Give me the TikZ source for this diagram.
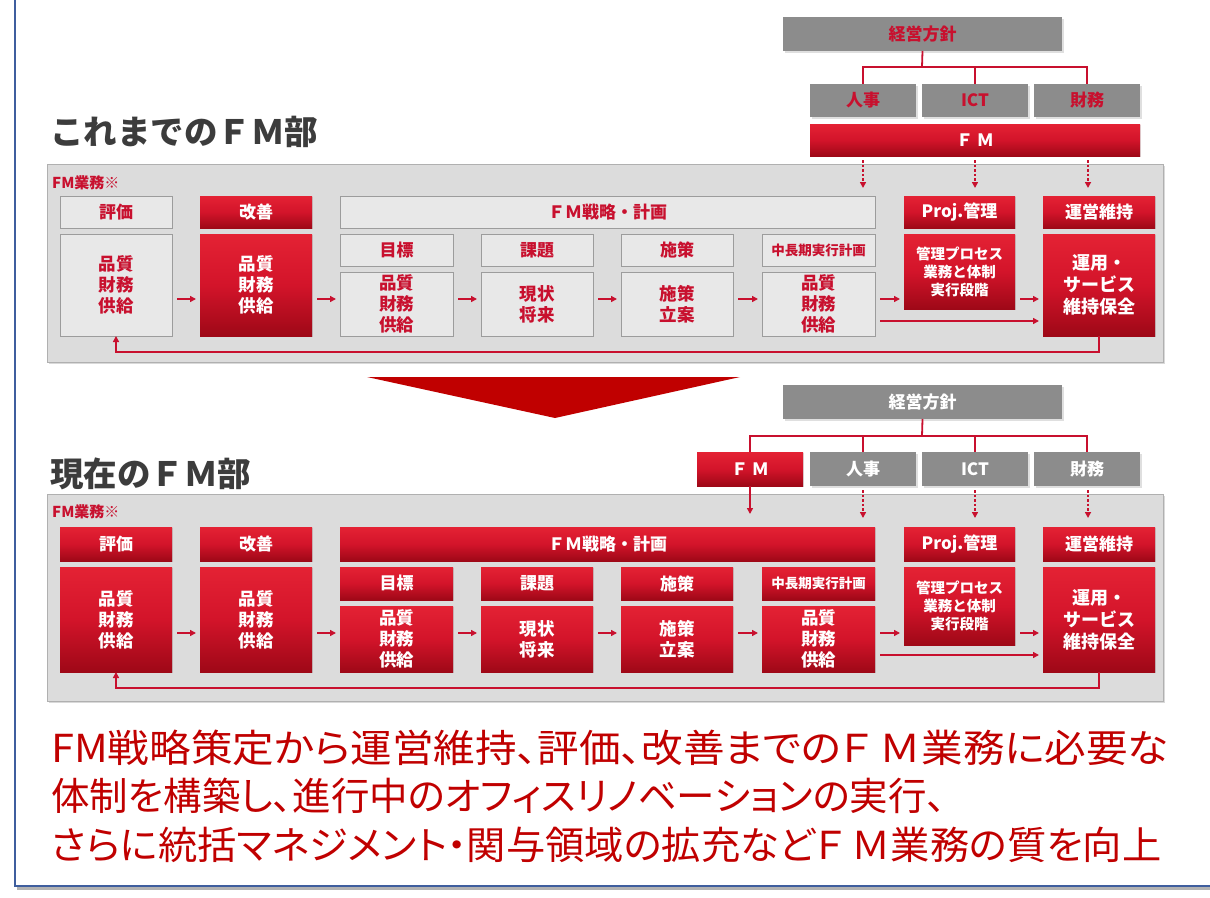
\documentclass[tikz,border=0pt]{standalone}
\usepackage{fontspec}
\usepackage{graphicx}
\setmainfont{Noto Sans CJK JP}
\newfontfamily\jpp{Noto Sans CJK JP}[RawFeature=+palt]
\usetikzlibrary{arrows.meta,shadows,calc}
\definecolor{fmred}{HTML}{C8102E}
\definecolor{txtred}{HTML}{C00000}
\definecolor{rtop}{HTML}{E42234}
\definecolor{rmid}{HTML}{D3142A}
\definecolor{rbot}{HTML}{9E0817}
\definecolor{boxgray}{HTML}{9C9C9C}
\definecolor{boxfill}{HTML}{E8E8E8}
\definecolor{panfill}{HTML}{DCDCDC}
\definecolor{tgray}{HTML}{8C8C8C}
\definecolor{ttlgray}{HTML}{3C3C3C}
\definecolor{framec}{HTML}{3F5E9E}
\newcommand\mybox[7]{%
  \pgfmathsetmacro\cx{(#3+#5)/2}\pgfmathsetmacro\cy{(#4+#6)/2}%
  \pgfmathsetmacro\ww{#5-#3}\pgfmathsetmacro\hh{#6-#4}%
  \node[#2, minimum width=\ww pt, minimum height=\hh pt] (#1) at (\cx,\cy) {#7};}
\tikzset{
  bxfont/.style={font=\bfseries\fontsize{17}{21}\selectfont},
  gbox/.style={draw=boxgray, line width=0.8pt, fill=boxfill, text=fmred, bxfont, align=center, inner sep=0pt, outer sep=0pt},
  rbox/.style={top color=rtop, bottom color=rbot, middle color=rmid, draw=none, text=white, bxfont, align=center, inner sep=0pt, outer sep=0pt,
     drop shadow={opacity=0.25, shadow xshift=1pt, shadow yshift=-1pt}},
  tgbox/.style={fill=tgray, draw=none, bxfont, align=center, inner sep=0pt, outer sep=0pt,
     drop shadow={opacity=0.25, shadow xshift=1.5pt, shadow yshift=-1.5pt}},
  panel/.style={fill=panfill, draw=boxgray!80, line width=0.8pt, inner sep=0pt, outer sep=0pt,
     drop shadow={opacity=0.3, shadow xshift=2pt, shadow yshift=-2pt}},
  lbl/.style={text=fmred, font=\bfseries\fontsize{15}{18}\selectfont, inner sep=0pt, anchor=west},
  ttl/.style={text=ttlgray, font=\bfseries\fontsize{33.5}{38}\selectfont, inner sep=0pt, anchor=west},
  btxt/.style={text=txtred, font=\jpp\fontsize{38.5}{44}\selectfont, inner sep=0pt, anchor=west},
  conn/.style={draw=fmred, line width=1.8pt},
  arr/.style={conn, -{Triangle[length=6pt,width=6pt]}},
  darr/.style={arr, dash pattern=on 2.5pt off 2pt},
  gap/.style={shorten <=5pt, shorten >=4pt},
  small/.style={font=\bfseries\fontsize{13.5}{16}\selectfont},
  mid/.style={font=\bfseries\fontsize{14.5}{18}\selectfont},
  body/.style={font=\bfseries\fontsize{17.5}{21}\selectfont},
  ubody/.style={font=\bfseries\fontsize{18}{22}\selectfont},
}
\begin{document}
\begin{tikzpicture}[x=1pt,y=-1pt]
\useasboundingbox (0,0) rectangle (1210,897);
% frame
\draw[gray!60, line width=4pt] (17,888) -- (1210,888);
\draw[framec, line width=2.2pt] (15,0) -- (15,886) -- (1210,886);

% ================= section A =================
\node[ttl] (ttlA) at (50,132) {これまでのＦＭ部};
\mybox{keiA}{tgbox, text=fmred}{783}{17}{1062}{51}{経営方針}
\mybox{jinA}{tgbox, text=fmred}{810}{84}{916}{117}{人事}
\mybox{ictA}{tgbox, text=fmred}{922}{84}{1028}{117}{ICT}
\mybox{zaiA}{tgbox, text=fmred}{1034}{84}{1140}{117}{財務}
\mybox{fmA}{rbox}{810}{124}{1140}{156}{Ｆ Ｍ}
\coordinate (hA) at (922,67);
\draw[conn] (keiA.south) -- (hA);
\draw[conn] (jinA.north) |- (hA) -| (zaiA.north);
\draw[conn] (ictA.north) -- (ictA.north |- hA);

\mybox{panA}{panel}{47}{164}{1163}{362}{}
\coordinate (dA1) at (863,160); \coordinate (dA2) at (975,160); \coordinate (dA3) at (1088,160);
\draw[darr] (dA1) -- ++(0,28);
\draw[darr] (dA2) -- ++(0,28);
\draw[darr] (dA3) -- ++(0,28);
\node[lbl] (lblA) at (52,183) {FM業務※};

\mybox{hyoA}{gbox}{60}{196}{172}{228}{評価}
\mybox{kaiA}{rbox}{200}{196}{312}{228}{改善}
\mybox{senA}{gbox}{340}{196}{875}{228}{ＦＭ戦略・計画}
\mybox{projA}{rbox}{904}{196}{1015}{228}{Proj.管理}
\mybox{uneA}{rbox}{1043}{196}{1155}{228}{運営維持}

\mybox{hyoBA}{gbox, body}{60}{234}{172}{336}{品質\\財務\\供給}
\mybox{kaiBA}{rbox, body}{200}{234}{312}{336}{品質\\財務\\供給}
\mybox{mokA}{gbox}{340}{234}{453}{266}{目標}
\mybox{mokBA}{gbox, body}{340}{272}{453}{336}{品質\\財務\\供給}
\mybox{kadA}{gbox}{481}{234}{593}{266}{課題}
\mybox{kadBA}{gbox, body}{481}{272}{593}{336}{現状\\将来}
\mybox{shiA}{gbox}{621}{234}{733}{266}{施策}
\mybox{shiBA}{gbox, body}{621}{272}{733}{336}{施策\\立案}
\mybox{chuA}{gbox, small}{762}{234}{875}{266}{中長期実行計画}
\mybox{chuBA}{gbox, body}{762}{272}{875}{336}{品質\\財務\\供給}
\mybox{projBA}{rbox, mid}{904}{234}{1015}{309}{管理プロセス\\業務と体制\\実行段階}
\mybox{uneBA}{rbox, ubody}{1043}{234}{1155}{336}{運用・\\サービス\\維持保全}

\coordinate (yA) at (0,299);
\draw[arr, gap] (hyoBA.east |- yA) -- (kaiBA.west |- yA);
\draw[arr, gap] (kaiBA.east |- yA) -- (mokBA.west |- yA);
\draw[arr, gap] (mokBA.east |- yA) -- (kadBA.west |- yA);
\draw[arr, gap] (kadBA.east |- yA) -- (shiBA.west |- yA);
\draw[arr, gap] (shiBA.east |- yA) -- (chuBA.west |- yA);
\draw[arr, gap] (chuBA.east |- yA) -- (projBA.west |- yA);
\draw[arr, gap] (projBA.east |- yA) -- (uneBA.west |- yA);
\coordinate (y2A) at (0,321);
\draw[arr, gap] (chuBA.east |- y2A) -- (uneBA.west |- y2A);
\coordinate (fbA) at (600,352);
\draw[arr] (uneBA.south) |- (fbA) -| (hyoBA.south);

% big arrow
\fill[txtred] (367,377) -- (740,377) -- (555,418) -- cycle;

% ================= section B =================
\node[ttl] (ttlB) at (50,474) {現在のＦＭ部};
\mybox{keiB}{tgbox, text=white}{783}{385}{1062}{419}{経営方針}
\mybox{fmB}{rbox}{697}{452}{803}{486}{Ｆ Ｍ}
\mybox{jinB}{tgbox, text=white}{810}{452}{916}{486}{人事}
\mybox{ictB}{tgbox, text=white}{922}{452}{1028}{486}{ICT}
\mybox{zaiB}{tgbox, text=white}{1034}{452}{1140}{486}{財務}
\coordinate (hB) at (922,436);
\draw[conn] (keiB.south) -- (hB);
\draw[conn] (fmB.north) |- (hB) -| (zaiB.north);
\draw[conn] (jinB.north) -- (jinB.north |- hB);
\draw[conn] (ictB.north) -- (ictB.north |- hB);

\mybox{panB}{panel}{47}{494}{1163}{701}{}
\draw[arr] (fmB.south) -- ++(0,28);
\coordinate (dB1) at (863,490); \coordinate (dB2) at (975,490); \coordinate (dB3) at (1088,490);
\draw[darr] (dB1) -- ++(0,28);
\draw[darr] (dB2) -- ++(0,28);
\draw[darr] (dB3) -- ++(0,28);
\node[lbl] (lblB) at (52,512) {FM業務※};

\mybox{hyoB}{rbox}{60}{527}{172}{561}{評価}
\mybox{kaiB}{rbox}{200}{527}{312}{561}{改善}
\mybox{senB}{rbox}{340}{527}{875}{561}{ＦＭ戦略・計画}
\mybox{projB}{rbox}{904}{527}{1015}{561}{Proj.管理}
\mybox{uneB}{rbox}{1043}{527}{1155}{561}{運営維持}

\mybox{hyoBB}{rbox, body}{60}{567}{172}{672}{品質\\財務\\供給}
\mybox{kaiBB}{rbox, body}{200}{567}{312}{672}{品質\\財務\\供給}
\mybox{mokB}{rbox}{340}{567}{453}{600}{目標}
\mybox{mokBB}{rbox, body}{340}{606}{453}{672}{品質\\財務\\供給}
\mybox{kadB}{rbox}{481}{567}{593}{600}{課題}
\mybox{kadBB}{rbox, body}{481}{606}{593}{672}{現状\\将来}
\mybox{shiB}{rbox}{621}{567}{733}{600}{施策}
\mybox{shiBB}{rbox, body}{621}{606}{733}{672}{施策\\立案}
\mybox{chuB}{rbox, small}{762}{567}{875}{600}{中長期実行計画}
\mybox{chuBB}{rbox, body}{762}{606}{875}{672}{品質\\財務\\供給}
\mybox{projBB}{rbox, mid}{904}{567}{1015}{645}{管理プロセス\\業務と体制\\実行段階}
\mybox{uneBB}{rbox, ubody}{1043}{567}{1155}{672}{運用・\\サービス\\維持保全}

\coordinate (yB) at (0,633);
\draw[arr, gap] (hyoBB.east |- yB) -- (kaiBB.west |- yB);
\draw[arr, gap] (kaiBB.east |- yB) -- (mokBB.west |- yB);
\draw[arr, gap] (mokBB.east |- yB) -- (kadBB.west |- yB);
\draw[arr, gap] (kadBB.east |- yB) -- (shiBB.west |- yB);
\draw[arr, gap] (shiBB.east |- yB) -- (chuBB.west |- yB);
\draw[arr, gap] (chuBB.east |- yB) -- (projBB.west |- yB);
\draw[arr, gap] (projBB.east |- yB) -- (uneBB.west |- yB);
\coordinate (y2B) at (0,655);
\draw[arr, gap] (chuBB.east |- y2B) -- (uneBB.west |- y2B);
\coordinate (fbB) at (600,688);
\draw[arr] (uneBB.south) |- (fbB) -| (hyoBB.south);

% ================= bottom text =================
\node[btxt] (l1) at (51,748) {\scalebox{1.08}[1]{FM戦略策定から運営維持、評価、改善までのＦ Ｍ業務に必要な}};
\node[btxt] (l2) at (51,796) {体制を構築し、進行中のオフィスリノベーションの実行、};
\node[btxt] (l3) at (51,845) {\scalebox{1.02}[1]{さらに統括マネジメント・関与領域の拡充などＦ Ｍ業務の質を向上}};
\end{tikzpicture}
\end{document}
